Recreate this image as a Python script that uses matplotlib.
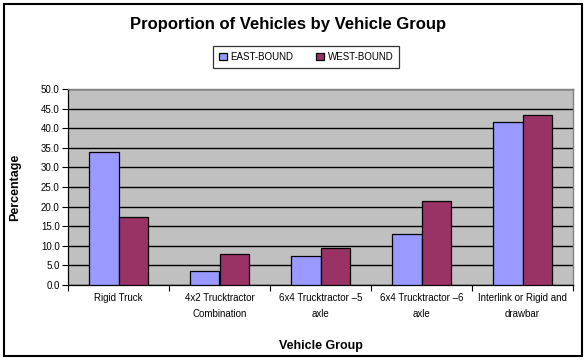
import matplotlib
matplotlib.use("Agg")
import matplotlib.pyplot as plt
import numpy as np
from matplotlib.patches import Rectangle

plt.rcParams["font.family"] = ["Liberation Sans", "DejaVu Sans"]

groups = [
    "Rigid Truck",
    "4x2 Trucktractor\nCombination",
    "6x4 Trucktractor \u20135\naxle",
    "6x4 Trucktractor \u20136\naxle",
    "Interlink or Rigid and\ndrawbar",
]
east_bound = [34.0, 3.5, 7.4, 13.0, 41.5]
west_bound = [17.4, 7.9, 9.4, 21.5, 43.3]
y_ticks = [0, 5, 10, 15, 20, 25, 30, 35, 40, 45, 50]

fig = plt.figure(figsize=(5.87, 3.61), dpi=100)
fig.patch.set_facecolor("white")
ax = fig.add_axes([68 / 587, 1 - 285 / 361, (573 - 68) / 587, (285 - 89) / 361])
ax.set_facecolor("#C0C0C0")

x = np.arange(len(groups))
w = 0.29
ax.bar(x - w / 2, east_bound, w, color="#9999FF", edgecolor="black", linewidth=0.9,
       label="EAST-BOUND", zorder=3)
ax.bar(x + w / 2, west_bound, w, color="#993366", edgecolor="black", linewidth=0.9,
       label="WEST-BOUND", zorder=3)

ax.set_xlim(-0.5, len(groups) - 0.5)
ax.set_ylim(0, 50)
ax.set_yticks(y_ticks)
ax.set_yticklabels([f"{v:.1f}" for v in y_ticks], fontsize=7)
ax.yaxis.grid(True, color="black", linewidth=1.0, zorder=1)
ax.set_axisbelow(True)

ax.set_xticks(x)
ax.set_xticklabels(groups, fontsize=7, linespacing=1.7)
ax.tick_params(axis="x", which="major", length=0, pad=6)
ax.set_xticks(np.arange(-0.5, len(groups)), minor=True)
ax.tick_params(axis="x", which="minor", length=4, width=0.8, direction="out")
ax.tick_params(axis="y", length=4, width=0.8, direction="out", pad=2)

for side in ["top", "right"]:
    ax.spines[side].set_color("#808080")
    ax.spines[side].set_linewidth(1.0)
ax.spines["left"].set_linewidth(0.9)
ax.spines["bottom"].set_linewidth(0.9)

ax.set_xlabel("Vehicle Group", fontsize=9, fontweight="bold", labelpad=15)
ax.set_ylabel("Percentage", fontsize=9, fontweight="bold", labelpad=14)

fig.text(0.49, 1 - 24 / 361, "Proportion of Vehicles by Vehicle Group",
         ha="center", va="center", fontsize=12, fontweight="bold")

leg = fig.legend(loc="center", bbox_to_anchor=(306 / 587, 1 - 57 / 361), ncol=2,
                 fontsize=7, frameon=True, fancybox=False, edgecolor="black",
                 handlelength=0.8, handleheight=0.8, handletextpad=0.4,
                 columnspacing=2.3, borderpad=0.6)
leg.get_frame().set_linewidth(0.9)

fig.patches.append(Rectangle((4 / 587, 1 - 356 / 361), 578 / 587, 352 / 361,
                             transform=fig.transFigure, fill=False,
                             edgecolor="black", linewidth=1.5))

fig.savefig("out.png", dpi=100)
